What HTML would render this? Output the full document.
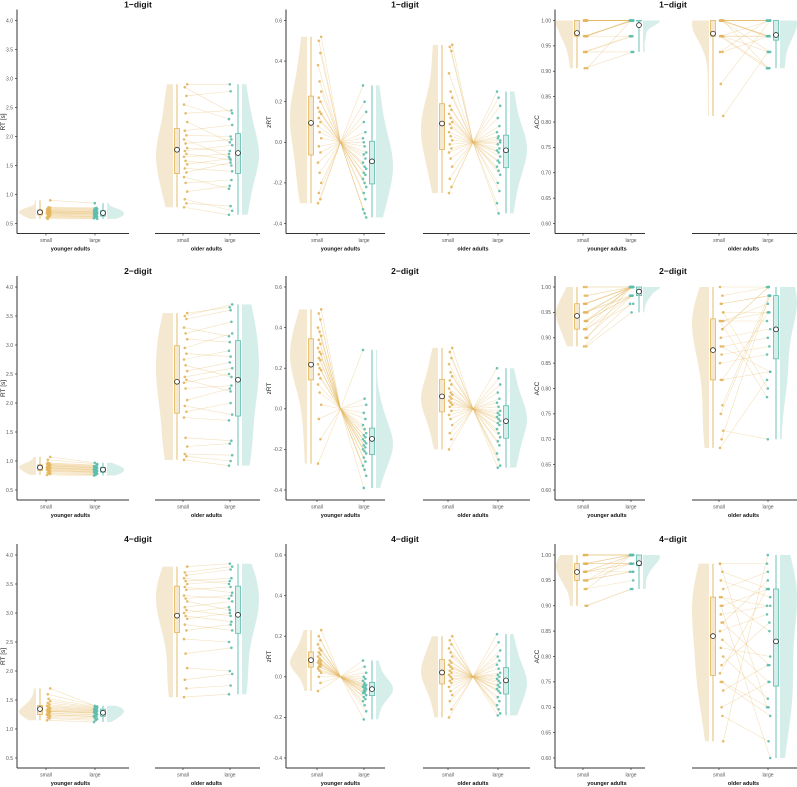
<!DOCTYPE html>
<html><head><meta charset="utf-8"><style>
html,body{margin:0;padding:0;background:#fff;}
svg{display:block;font-family:"Liberation Sans",sans-serif;}
</style></head><body>
<svg id="chart" width="797" height="787" viewBox="0 0 797 787" xmlns="http://www.w3.org/2000/svg"></svg>
<script>
// ---- data: each subpanel has paired small / large arrays ----
const rowTitles = ["1\u2212digit","2\u2212digit","4\u2212digit"];
const groupLabels = ["younger adults","older adults"];
const categories = ["small","large"];
const rtTicks = [0.5,1.0,1.5,2.0,2.5,3.0,3.5,4.0];
const zrtTicks = [-0.4,-0.2,0.0,0.2,0.4,0.6];
const accTicks = [0.60,0.65,0.70,0.75,0.80,0.85,0.90,0.95,1.00];

const rt1YoungSmall=[0.60,0.62,0.63,0.65,0.66,0.67,0.68,0.68,0.69,0.70,0.70,0.71,0.72,0.72,0.73,0.74,0.75,0.76,0.77,0.78,0.60,0.64,0.58,0.90];
const rt1YoungLarge=[0.59,0.61,0.62,0.63,0.64,0.65,0.66,0.67,0.67,0.68,0.69,0.70,0.70,0.71,0.72,0.73,0.74,0.75,0.76,0.77,0.60,0.62,0.58,0.85];
const rt1OldSmall=[0.78,0.85,0.92,1.05,1.20,1.30,1.38,1.45,1.52,1.58,1.65,1.70,1.75,1.80,1.88,1.95,2.02,2.10,2.25,2.40,2.55,2.70,2.85,2.90];
const rt1OldLarge=[0.65,0.80,0.72,1.15,1.25,1.10,1.55,1.40,1.62,1.50,1.70,1.60,1.85,1.75,1.95,1.65,2.00,2.20,1.90,2.45,2.30,2.78,2.40,2.90];
const rt2YoungSmall=[0.76,0.78,0.80,0.82,0.83,0.85,0.86,0.87,0.88,0.89,0.90,0.91,0.92,0.93,0.94,0.95,0.96,0.97,0.78,0.84,0.88,0.92,1.02,1.07];
const rt2YoungLarge=[0.75,0.76,0.78,0.79,0.80,0.81,0.82,0.83,0.84,0.85,0.86,0.87,0.88,0.89,0.90,0.91,0.92,0.93,0.77,0.81,0.85,0.88,0.95,0.97];
const rt2OldSmall=[1.02,1.08,1.12,1.25,1.40,1.75,1.85,1.95,2.05,2.25,2.35,2.40,2.45,2.55,2.65,2.75,2.85,2.95,3.10,3.20,3.30,3.45,3.50,3.55];
const rt2OldLarge=[0.92,1.00,1.10,1.30,1.35,1.70,2.00,1.80,2.25,2.30,2.50,2.20,2.60,2.70,2.45,2.90,2.80,3.20,3.05,3.40,3.15,3.60,3.70,3.65];
const rt4YoungSmall=[1.15,1.18,1.20,1.22,1.24,1.25,1.27,1.28,1.30,1.31,1.32,1.33,1.35,1.36,1.38,1.40,1.42,1.45,1.48,1.52,1.25,1.30,1.60,1.70];
const rt4YoungLarge=[1.12,1.15,1.17,1.19,1.21,1.22,1.24,1.25,1.27,1.28,1.29,1.30,1.31,1.32,1.33,1.34,1.35,1.36,1.37,1.38,1.22,1.28,1.39,1.40];
const rt4OldSmall=[1.55,1.70,1.85,2.05,2.30,2.55,2.70,2.80,2.90,2.95,3.00,3.05,3.10,3.20,3.25,3.30,3.40,3.45,3.50,3.55,3.60,3.65,3.70,3.80];
const rt4OldLarge=[1.60,1.75,1.95,2.00,2.40,2.50,2.80,2.70,3.00,2.85,3.10,2.95,3.20,3.05,3.30,3.25,3.45,3.35,3.55,3.60,3.50,3.75,3.80,3.85];

const z1YoungSmall=[-0.30,-0.28,-0.25,-0.20,-0.15,-0.10,-0.05,-0.02,0.02,0.05,0.08,0.10,0.12,0.14,0.15,0.17,0.20,0.22,0.25,0.30,0.38,0.44,0.50,0.52];
const z1YoungLarge=[0.28,0.20,0.15,0.10,0.05,0.02,-0.02,-0.05,-0.06,-0.08,-0.10,-0.12,-0.13,-0.15,-0.16,-0.18,-0.20,-0.22,-0.25,-0.28,-0.33,-0.35,-0.37,0.00];
const z1OldSmall=[-0.25,-0.22,-0.18,-0.12,-0.08,-0.05,-0.03,-0.01,0.01,0.03,0.05,0.07,0.09,0.10,0.12,0.14,0.16,0.18,0.22,0.25,0.34,0.45,0.47,0.48];
const z1OldLarge=[0.25,0.22,0.18,0.12,0.08,0.05,0.03,0.01,-0.01,-0.03,-0.04,-0.05,-0.07,-0.09,-0.10,-0.12,-0.14,-0.16,-0.20,-0.24,-0.30,-0.35,0.00,0.02];
const z2YoungSmall=[-0.27,-0.15,-0.05,0.02,0.08,0.12,0.15,0.17,0.19,0.20,0.22,0.24,0.25,0.27,0.28,0.30,0.32,0.34,0.36,0.38,0.40,0.44,0.47,0.49];
const z2YoungLarge=[0.29,0.05,0.02,-0.02,-0.05,-0.08,-0.10,-0.12,-0.13,-0.14,-0.15,-0.16,-0.17,-0.18,-0.19,-0.20,-0.21,-0.22,-0.24,-0.26,-0.28,-0.30,-0.33,-0.39];
const z2OldSmall=[-0.20,-0.15,-0.12,-0.08,-0.05,-0.03,-0.01,0.01,0.02,0.03,0.04,0.05,0.06,0.07,0.08,0.10,0.12,0.14,0.16,0.18,0.22,0.25,0.28,0.30];
const z2OldLarge=[0.20,0.15,0.12,0.08,0.05,0.03,0.01,-0.01,-0.02,-0.03,-0.04,-0.05,-0.06,-0.07,-0.08,-0.10,-0.12,-0.14,-0.16,-0.18,-0.22,-0.25,-0.28,-0.29];
const z4YoungSmall=[-0.07,-0.03,0.00,0.02,0.03,0.04,0.05,0.05,0.06,0.06,0.07,0.07,0.08,0.08,0.09,0.10,0.11,0.12,0.13,0.14,0.16,0.18,0.20,0.23];
const z4YoungLarge=[0.08,0.05,0.02,0.00,-0.01,-0.02,-0.03,-0.04,-0.04,-0.05,-0.05,-0.06,-0.06,-0.07,-0.07,-0.08,-0.08,-0.09,-0.10,-0.11,-0.12,-0.14,-0.17,-0.21];
const z4OldSmall=[-0.20,-0.16,-0.12,-0.09,-0.07,-0.05,-0.03,-0.02,-0.01,0.00,0.01,0.02,0.03,0.04,0.05,0.06,0.07,0.08,0.10,0.12,0.14,0.16,0.18,0.20];
const z4OldLarge=[0.21,0.17,0.13,0.10,0.08,0.06,0.04,0.02,0.01,0.00,-0.01,-0.02,-0.03,-0.04,-0.05,-0.06,-0.07,-0.08,-0.10,-0.12,-0.14,-0.16,-0.18,-0.19];

const acc1YoungSmall=[1,1,1,1,1,1,1,1,1,1,1,1,.969,.969,.969,.969,.969,.969,.969,.938,.938,.938,.906,.906];
const acc1YoungLarge=[1,1,1,1,1,1,1,1,1,1,1,1,1,1,1,1,1,1,.969,.969,.969,.938,.938,1];
const acc1OldSmall=[1,1,1,1,1,1,1,1,1,1,1,1,1,1,.969,.969,.969,.969,.969,.969,.938,.938,.875,.812];
const acc1OldLarge=[1,1,1,1,.969,.969,.969,.938,.906,1,1,1,1,.969,.969,.906,.938,1,.969,.906,1,.969,1,.938];
const acc2YoungSmall=[1,1,.983,.983,.967,.967,.967,.95,.95,.95,.95,.933,.933,.933,.933,.917,.917,.917,.9,.9,.883,.883,.967,.95];
const acc2YoungLarge=[1,1,1,1,1,1,1,1,1,.983,.983,.983,1,1,.983,1,.983,.967,1,.983,.967,.95,1,1];
const acc2OldSmall=[1,.983,.967,.95,.933,.933,.917,.9,.883,.867,.85,.817,.817,.95,.967,.933,.767,.75,.717,.7,.683,.917,.883,.933];
const acc2OldLarge=[1,1,.983,.95,.95,.933,1,.917,.9,.883,.867,.95,.833,.8,.983,.783,.983,.983,.7,.983,.817,1,.833,.967];
const acc4YoungSmall=[1,1,1,1,.983,.983,.983,.983,.983,.967,.967,.967,.967,.95,.95,.95,.933,.933,.9,.9,1,.983,.967,.95];
const acc4YoungLarge=[1,1,1,1,1,1,1,.983,.983,1,.983,.983,1,.983,.967,.967,1,.95,.933,.933,1,.983,.967,1];
const acc4OldSmall=[.983,.967,.95,.933,.917,.917,.9,.883,.867,.867,.85,.833,.817,.8,.783,.767,.75,.75,.733,.7,.983,.683,.9,.633];
const acc4OldLarge=[.983,.933,.917,.967,.85,.9,.933,.9,.95,.783,.883,.75,.8,.717,.867,.933,.7,.683,.783,.75,.7,.633,.6,1];

const gridData = [
 [[[rt1YoungSmall,rt1YoungLarge],[rt1OldSmall,rt1OldLarge]],[[z1YoungSmall,z1YoungLarge],[z1OldSmall,z1OldLarge]],[[acc1YoungSmall,acc1YoungLarge],[acc1OldSmall,acc1OldLarge]]],
 [[[rt2YoungSmall,rt2YoungLarge],[rt2OldSmall,rt2OldLarge]],[[z2YoungSmall,z2YoungLarge],[z2OldSmall,z2OldLarge]],[[acc2YoungSmall,acc2YoungLarge],[acc2OldSmall,acc2OldLarge]]],
 [[[rt4YoungSmall,rt4YoungLarge],[rt4OldSmall,rt4OldLarge]],[[z4YoungSmall,z4YoungLarge],[z4OldSmall,z4OldLarge]],[[acc4YoungSmall,acc4YoungLarge],[acc4OldSmall,acc4OldLarge]]]
];

// ---- layout ----
const svg = document.getElementById('chart');
const NS = 'http://www.w3.org/2000/svg';
function mk(tag, attrs, parent){ const e=document.createElementNS(NS,tag); for(const k in attrs) e.setAttribute(k,attrs[k]); (parent||svg).appendChild(e); return e; }

const cols = [
 {axisX:17, title:"RT [s]", ticks:rtTicks, dom:[0.5,4.0], dec:1, sub:[{s:46,l:95,x0:17,x1:129},{s:183,l:230,x0:155,x1:260}], mid:false, ylabX:5, titleX:138},
 {axisX:286, title:"zRT", ticks:zrtTicks, dom:[-0.4,0.6], dec:1, sub:[{s:317,l:364,x0:286,x1:385},{s:448,l:498,x0:423,x1:530}], mid:true, ylabX:271, titleX:405},
 {axisX:555, title:"ACC", ticks:accTicks, dom:[0.6,1.0], dec:2, sub:[{s:583,l:631,x0:555,x1:645},{s:719,l:768,x0:692,x1:797}], mid:false, ylabX:539, titleX:673}
];
const rowTop = [20.5, 287, 555];
const SPAN = 203;
const CS = '#E3B55B', CSL = '#F4E8D0', CL = '#5CBCAD', CLL = '#D6EEEA';

function q(arr,p){ const a=[...arr].sort((x,y)=>x-y); const i=(a.length-1)*p; const lo=Math.floor(i), hi=Math.ceil(i); return a[lo]+(a[hi]-a[lo])*(i-lo); }
function mean(a){ return a.reduce((s,v)=>s+v,0)/a.length; }

function violin(g, vals, x, dir, yS, fill, maxW){
  const mn=Math.min(...vals), mx=Math.max(...vals);
  const sd=Math.sqrt(vals.reduce((s,v)=>s+(v-mean(vals))**2,0)/vals.length)||0.01;
  const bw=Math.max(1.06*sd*Math.pow(vals.length,-0.2),(mx-mn)*0.05+1e-4);
  const steps=40, dens=[];
  for(let i=0;i<=steps;i++){ const t=mn+(mx-mn)*i/steps; let d=0; vals.forEach(v=>{d+=Math.exp(-0.5*((t-v)/bw)**2);}); dens.push([t,d]); }
  const dm=Math.max(...dens.map(d=>d[1]));
  let p=`M${x},${yS(mn)}`;
  dens.forEach(([t,d])=>{ p+=` L${x+dir*maxW*d/dm},${yS(t)}`; });
  p+=` L${x},${yS(mx)} Z`;
  const e=mk('path',{d:p,fill:fill,stroke:'none'},g);
  
  
}

function box(g, vals, cx, w, yS, col, fill){
  const q1=q(vals,.25), q3=q(vals,.75);
  const wl=mk('line',{x1:cx,x2:cx,y1:yS(Math.min(...vals)),y2:yS(Math.max(...vals)),stroke:col,'stroke-width':0.9},g);
  
  
  const r=mk('rect',{x:cx-w/2,y:yS(q3),width:w,height:Math.max(0.5,yS(q1)-yS(q3)),fill:fill,stroke:col,'stroke-width':0.8},g);
  
  
  const m=mk('circle',{cx:cx,cy:yS(mean(vals)),r:2.4,fill:'#fff',stroke:'#222','stroke-width':0.8},g);
  
  
}

rowTitles.forEach((rt, r)=>{
  const top=rowTop[r], bot=top+SPAN, axY=bot+10;
  cols.forEach((c, ci)=>{
    const g=mk('g',{});
    
    
    const yS=v=>bot-(v-c.dom[0])/(c.dom[1]-c.dom[0])*SPAN;
    const t=mk('text',{x:c.titleX,y:top-13,'text-anchor':'middle','font-size':8.5,'font-weight':'bold',fill:'#111'},g);
    t.textContent=rt;
    
    
    const ya=mk('line',{x1:c.axisX,x2:c.axisX,y1:top-11,y2:axY,stroke:'#333','stroke-width':1},g);
    
    
    c.ticks.forEach(tv=>{
      const y=yS(tv);
      const tk=mk('line',{x1:c.axisX-2,x2:c.axisX,y1:y,y2:y,stroke:'#333','stroke-width':0.7},g);
      
      
      const tl=mk('text',{x:c.axisX-4,y:y+1.8,'text-anchor':'end','font-size':5,fill:'#555'},g);
      tl.textContent=tv.toFixed(c.dec);
      
      
    });
    const yt=mk('text',{x:c.ylabX,y:(top+bot)/2,'text-anchor':'middle','font-size':6.5,fill:'#222',transform:`rotate(-90 ${c.ylabX} ${(top+bot)/2})`},g);
    yt.textContent=c.title;
    
    

    c.sub.forEach((sp, si)=>{
      const [sm, lg]=gridData[r][ci][si];
      const sg=mk('g',{},g);
      
      
      const xa=mk('line',{x1:sp.x0,x2:sp.x1,y1:axY,y2:axY,stroke:'#333','stroke-width':1},sg);
      
      
      [sp.s, sp.l].forEach((x,k)=>{
        const tk=mk('line',{x1:x,x2:x,y1:axY,y2:axY+2,stroke:'#333','stroke-width':0.7},sg);
        
        
        const tl=mk('text',{x:x,y:axY+8.5,'text-anchor':'middle','font-size':5,fill:'#555'},sg);
        tl.textContent=categories[k];
        
        
      });
      const xl=mk('text',{x:(sp.s+sp.l)/2,y:axY+17,'text-anchor':'middle','font-size':5.5,'font-weight':'bold',fill:'#111'},sg);
      xl.textContent=groupLabels[si];
      
      

      violin(sg, sm, sp.s-10, -1, yS, CSL, 17);
      violin(sg, lg, sp.l+12, 1, yS, CLL, 17);
      const mx=(sp.s+sp.l)/2;
      sm.forEach((v,i)=>{
        const x1=sp.s+1+(i*3%5)*0.8, x2=sp.l-1+(i*2%5)*0.8;
        const d=c.mid?`M${x1},${yS(v)} L${mx},${yS(0)} L${x2},${yS(lg[i])}`:`M${x1},${yS(v)} L${x2},${yS(lg[i])}`;
        const ln=mk('path',{d:d,fill:'none',stroke:CS,'stroke-width':0.6,'stroke-opacity':0.4},sg);
        
        
      });
      box(sg, sm, sp.s-6, 5, yS, CS, CSL);
      box(sg, lg, sp.l+8, 5, yS, CL, CLL);
      sm.forEach((v,i)=>{
        const p=mk('circle',{cx:sp.s+1+(i*3%5)*0.8,cy:yS(v),r:1.3,fill:CS,'fill-opacity':0.9},sg);
        
        
      });
      lg.forEach((v,i)=>{
        const p=mk('circle',{cx:sp.l-1+(i*2%5)*0.8,cy:yS(v),r:1.3,fill:CL,'fill-opacity':0.9},sg);
        
        
      });
    });
  });
});
</script>
</body></html>
